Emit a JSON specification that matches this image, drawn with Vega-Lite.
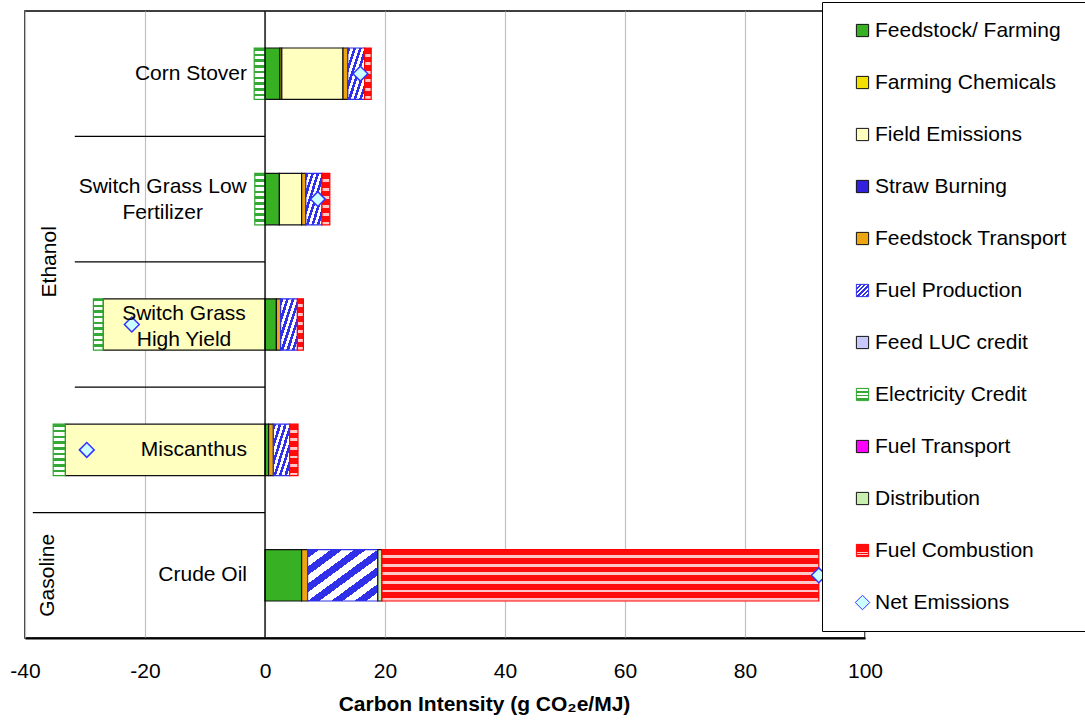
{
  "$schema": "https://vega.github.io/schema/vega-lite/v6.json",
  "width": 840,
  "height": 627,
  "autosize": {"type": "none"},
  "padding": {"left": 25, "top": 11, "right": 220, "bottom": 85},
  "background": "white",
  "config": {
    "font": "Liberation Sans",
    "view": {"stroke": "black", "strokeWidth": 1.5},
    "legend": {
      "labelFontSize": 21,
      "labelFont": "Liberation Sans",
      "labelColor": "black",
      "symbolSize": 150,
      "symbolStrokeWidth": 1,
      "rowPadding": 30,
      "padding": 18,
      "fillColor": "white",
      "strokeColor": "black",
      "symbolOffset": 12,
      "labelOffset": 2,
      "labelLimit": 400,
      "symbolType": "square"
    }
  },
  "data": {
    "values": [
      {"category": "Corn Stover", "series": "Feedstock/ Farming", "k": 1, "value": 2.5},
      {"category": "Corn Stover", "series": "Farming Chemicals", "k": 2, "value": 0.3},
      {"category": "Corn Stover", "series": "Field Emissions", "k": 3, "value": 10.2},
      {"category": "Corn Stover", "series": "Feedstock Transport", "k": 5, "value": 0.8},
      {"category": "Corn Stover", "series": "Fuel Production", "k": 6, "value": 2.8},
      {"category": "Corn Stover", "series": "Electricity Credit", "k": 8, "value": -1.8},
      {"category": "Corn Stover", "series": "Fuel Combustion", "k": 11, "value": 1.1},
      {"category": "Corn Stover", "series": "Net Emissions", "k": 12, "value": 15.9},
      {"category": "Switch Grass Low Fertilizer", "series": "Feedstock/ Farming", "k": 1, "value": 2.4},
      {"category": "Switch Grass Low Fertilizer", "series": "Field Emissions", "k": 3, "value": 3.7},
      {"category": "Switch Grass Low Fertilizer", "series": "Feedstock Transport", "k": 5, "value": 0.7},
      {"category": "Switch Grass Low Fertilizer", "series": "Fuel Production", "k": 6, "value": 2.7},
      {"category": "Switch Grass Low Fertilizer", "series": "Electricity Credit", "k": 8, "value": -1.7},
      {"category": "Switch Grass Low Fertilizer", "series": "Fuel Combustion", "k": 11, "value": 1.3},
      {"category": "Switch Grass Low Fertilizer", "series": "Net Emissions", "k": 12, "value": 8.8},
      {"category": "Switch Grass High Yield", "series": "Feedstock/ Farming", "k": 1, "value": 1.9},
      {"category": "Switch Grass High Yield", "series": "Field Emissions", "k": 3, "value": -27.0},
      {"category": "Switch Grass High Yield", "series": "Feedstock Transport", "k": 5, "value": 0.7},
      {"category": "Switch Grass High Yield", "series": "Fuel Production", "k": 6, "value": 2.8},
      {"category": "Switch Grass High Yield", "series": "Electricity Credit", "k": 8, "value": -1.6},
      {"category": "Switch Grass High Yield", "series": "Fuel Combustion", "k": 11, "value": 1.0},
      {"category": "Switch Grass High Yield", "series": "Net Emissions", "k": 12, "value": -22.2},
      {"category": "Miscanthus", "series": "Feedstock/ Farming", "k": 1, "value": 0.6},
      {"category": "Miscanthus", "series": "Field Emissions", "k": 3, "value": -33.3},
      {"category": "Miscanthus", "series": "Feedstock Transport", "k": 5, "value": 0.8},
      {"category": "Miscanthus", "series": "Fuel Production", "k": 6, "value": 2.7},
      {"category": "Miscanthus", "series": "Electricity Credit", "k": 8, "value": -2.0},
      {"category": "Miscanthus", "series": "Fuel Combustion", "k": 11, "value": 1.4},
      {"category": "Miscanthus", "series": "Net Emissions", "k": 12, "value": -29.7},
      {"category": "Crude Oil", "series": "Feedstock/ Farming", "k": 1, "value": 6.1},
      {"category": "Crude Oil", "series": "Feedstock Transport", "k": 5, "value": 1.0},
      {"category": "Crude Oil", "series": "Fuel Production", "k": 6, "value": 11.7},
      {"category": "Crude Oil", "series": "Distribution", "k": 10, "value": 0.7},
      {"category": "Crude Oil", "series": "Fuel Combustion", "k": 11, "value": 72.8},
      {"category": "Crude Oil", "series": "Net Emissions", "k": 12, "value": 92.3}
    ]
  },
  "layer": [
    {
      "transform": [{"filter": "datum.series === 'Feedstock/ Farming' && indexof(['Switch Grass Low Fertilizer','Switch Grass High Yield','Miscanthus'], datum.category) >= 0"}],
      "mark": {"type": "rule", "color": "black", "strokeWidth": 1.3},
      "encoding": {
        "y": {"field": "category", "type": "nominal", "bandPosition": 0, "axis": null,
              "scale": {"domain": ["Corn Stover", "Switch Grass Low Fertilizer", "Switch Grass High Yield", "Miscanthus", "Crude Oil"], "paddingInner": 0, "paddingOuter": 0}},
        "x": {"datum": -31.7, "type": "quantitative"},
        "x2": {"datum": 0}
      }
    },
    {
      "transform": [{"filter": "datum.series === 'Feedstock/ Farming' && datum.category === 'Crude Oil'"}],
      "mark": {"type": "rule", "color": "black", "strokeWidth": 1.3},
      "encoding": {
        "y": {"field": "category", "type": "nominal", "bandPosition": 0, "axis": null},
        "x": {"datum": -38.7, "type": "quantitative"},
        "x2": {"datum": 0}
      }
    },
    {
      "transform": [{"filter": "datum.series !== 'Net Emissions'"}],
      "mark": {"type": "bar", "height": {"band": 0.41}, "strokeWidth": 1.2},
      "encoding": {
        "y": {"field": "category", "type": "nominal", "axis": null,
              "scale": {"domain": ["Corn Stover", "Switch Grass Low Fertilizer", "Switch Grass High Yield", "Miscanthus", "Crude Oil"], "paddingInner": 0, "paddingOuter": 0}},
        "x": {
          "field": "value",
          "type": "quantitative",
          "stack": "zero",
          "scale": {"domain": [-40, 100], "nice": false},
          "axis": {
            "title": "Carbon Intensity (g CO₂e/MJ)",
            "values": [-40, -20, 0, 20, 40, 60, 80, 100],
            "labelExpr": "datum.value + ''",
            "grid": true,
            "gridColor": "#c0c0c0",
            "gridWidth": 1.2,
            "ticks": false,
            "labelFontSize": 21,
            "labelPadding": 22,
            "labelColor": "black",
            "labelFlush": false,
            "titleFontSize": 21,
            "titleFontWeight": "bold",
            "titleColor": "black",
            "titlePadding": 12,
            "titleX": 459,
            "domainColor": "black",
            "domainWidth": 2
          }
        },
        "color": {
          "field": "series",
          "type": "nominal",
          "scale": {
            "domain": ["Feedstock/ Farming", "Farming Chemicals", "Field Emissions", "Straw Burning", "Feedstock Transport", "Fuel Production", "Feed LUC credit", "Electricity Credit", "Fuel Transport", "Distribution", "Fuel Combustion", "Net Emissions"],
            "range": [
              "#38b024", "#f2e100", "#ffffc0", "#3322dd", "#eea514",
              {"expr": "{gradient: 'linear', x1: 0, y1: 0, x2: 1, y2: 1, stops: [{offset: 0, color: '#3030e8'}, {offset: 0.0833, color: '#3030e8'}, {offset: 0.0833, color: '#ffffff'}, {offset: 0.1667, color: '#ffffff'}, {offset: 0.1667, color: '#3030e8'}, {offset: 0.25, color: '#3030e8'}, {offset: 0.25, color: '#ffffff'}, {offset: 0.3333, color: '#ffffff'}, {offset: 0.3333, color: '#3030e8'}, {offset: 0.4167, color: '#3030e8'}, {offset: 0.4167, color: '#ffffff'}, {offset: 0.5, color: '#ffffff'}, {offset: 0.5, color: '#3030e8'}, {offset: 0.5833, color: '#3030e8'}, {offset: 0.5833, color: '#ffffff'}, {offset: 0.6667, color: '#ffffff'}, {offset: 0.6667, color: '#3030e8'}, {offset: 0.75, color: '#3030e8'}, {offset: 0.75, color: '#ffffff'}, {offset: 0.8333, color: '#ffffff'}, {offset: 0.8333, color: '#3030e8'}, {offset: 0.9167, color: '#3030e8'}, {offset: 0.9167, color: '#ffffff'}, {offset: 1, color: '#ffffff'}]}"},
              "#c8c8fa",
              {"expr": "{gradient: 'linear', x1: 0, y1: 0, x2: 0, y2: 1, stops: [{offset: 0, color: '#35a835'}, {offset: 0.05, color: '#35a835'}, {offset: 0.05, color: '#ffffff'}, {offset: 0.1111, color: '#ffffff'}, {offset: 0.1111, color: '#35a835'}, {offset: 0.1611, color: '#35a835'}, {offset: 0.1611, color: '#ffffff'}, {offset: 0.2222, color: '#ffffff'}, {offset: 0.2222, color: '#35a835'}, {offset: 0.2722, color: '#35a835'}, {offset: 0.2722, color: '#ffffff'}, {offset: 0.3333, color: '#ffffff'}, {offset: 0.3333, color: '#35a835'}, {offset: 0.3833, color: '#35a835'}, {offset: 0.3833, color: '#ffffff'}, {offset: 0.4444, color: '#ffffff'}, {offset: 0.4444, color: '#35a835'}, {offset: 0.4944, color: '#35a835'}, {offset: 0.4944, color: '#ffffff'}, {offset: 0.5556, color: '#ffffff'}, {offset: 0.5556, color: '#35a835'}, {offset: 0.6056, color: '#35a835'}, {offset: 0.6056, color: '#ffffff'}, {offset: 0.6667, color: '#ffffff'}, {offset: 0.6667, color: '#35a835'}, {offset: 0.7167, color: '#35a835'}, {offset: 0.7167, color: '#ffffff'}, {offset: 0.7778, color: '#ffffff'}, {offset: 0.7778, color: '#35a835'}, {offset: 0.8278, color: '#35a835'}, {offset: 0.8278, color: '#ffffff'}, {offset: 0.8889, color: '#ffffff'}, {offset: 0.8889, color: '#35a835'}, {offset: 0.9389, color: '#35a835'}, {offset: 0.9389, color: '#ffffff'}, {offset: 1, color: '#ffffff'}]}"},
              "#ff00ff", "#c8eeb0",
              {"expr": "{gradient: 'linear', x1: 0, y1: 0, x2: 0, y2: 1, stops: [{offset: 0, color: '#ff0d0d'}, {offset: 0.11, color: '#ff0d0d'}, {offset: 0.11, color: '#ffc8c8'}, {offset: 0.1667, color: '#ffc8c8'}, {offset: 0.1667, color: '#ff0d0d'}, {offset: 0.2767, color: '#ff0d0d'}, {offset: 0.2767, color: '#ffc8c8'}, {offset: 0.3333, color: '#ffc8c8'}, {offset: 0.3333, color: '#ff0d0d'}, {offset: 0.4433, color: '#ff0d0d'}, {offset: 0.4433, color: '#ffc8c8'}, {offset: 0.5, color: '#ffc8c8'}, {offset: 0.5, color: '#ff0d0d'}, {offset: 0.61, color: '#ff0d0d'}, {offset: 0.61, color: '#ffc8c8'}, {offset: 0.6667, color: '#ffc8c8'}, {offset: 0.6667, color: '#ff0d0d'}, {offset: 0.7767, color: '#ff0d0d'}, {offset: 0.7767, color: '#ffc8c8'}, {offset: 0.8333, color: '#ffc8c8'}, {offset: 0.8333, color: '#ff0d0d'}, {offset: 0.9433, color: '#ff0d0d'}, {offset: 0.9433, color: '#ffc8c8'}, {offset: 1, color: '#ffc8c8'}]}"},
              "#ccffff"
            ]
          },
          "legend": {
            "title": null,
            "orient": "none",
            "legendX": 797,
            "legendY": -9,
            "encode": {"symbols": {"update": {
              "shape": {"signal": "datum.value === 'Net Emissions' ? 'diamond' : 'square'"},
              "size": {"signal": "datum.value === 'Net Emissions' ? 210 : 150"}
            }}}
          }
        },
        "stroke": {
          "field": "series",
          "type": "nominal",
          "scale": {
            "domain": ["Feedstock/ Farming", "Farming Chemicals", "Field Emissions", "Straw Burning", "Feedstock Transport", "Fuel Production", "Feed LUC credit", "Electricity Credit", "Fuel Transport", "Distribution", "Fuel Combustion", "Net Emissions"],
            "range": ["#111111", "#111111", "#111111", "#111111", "#111111", "#3030e8", "#111111", "#2ea52e", "#111111", "#111111", "#ff0000", "#3333ff"]
          },
          "legend": {
            "title": null,
            "orient": "none",
            "legendX": 797,
            "legendY": -9,
            "encode": {"symbols": {"update": {
              "shape": {"signal": "datum.value === 'Net Emissions' ? 'diamond' : 'square'"},
              "size": {"signal": "datum.value === 'Net Emissions' ? 210 : 150"}
            }}}
          }
        },
        "order": {"field": "k", "type": "quantitative"}
      }
    },
    {
      "transform": [{"filter": "datum.series === 'Feedstock/ Farming' && datum.category === 'Corn Stover'"}],
      "mark": {"type": "rule", "color": "black", "strokeWidth": 1.3},
      "encoding": {
        "x": {"datum": 0, "type": "quantitative"}
      }
    },
    {
      "transform": [{"filter": "datum.series === 'Net Emissions'"}],
      "mark": {"type": "point", "shape": "diamond", "filled": true, "size": 220, "strokeWidth": 1.5, "opacity": 1},
      "encoding": {
        "y": {"field": "category", "type": "nominal", "axis": null},
        "x": {"field": "value", "type": "quantitative"},
        "color": {"field": "series", "type": "nominal"},
        "stroke": {"field": "series", "type": "nominal"}
      }
    },
    {
      "transform": [{"filter": "datum.series === 'Feedstock/ Farming' && indexof(['Corn Stover','Miscanthus','Crude Oil'], datum.category) >= 0"}],
      "mark": {"type": "text", "align": "right", "baseline": "middle", "fontSize": 21, "color": "black"},
      "encoding": {
        "y": {"field": "category", "type": "nominal", "axis": null},
        "x": {"datum": -3, "type": "quantitative"},
        "text": {"field": "category"}
      }
    },
    {
      "transform": [{"filter": "datum.series === 'Feedstock/ Farming' && datum.category === 'Switch Grass Low Fertilizer'"}],
      "mark": {"type": "text", "align": "center", "baseline": "middle", "fontSize": 21, "lineHeight": 26, "dy": -12, "color": "black"},
      "encoding": {
        "y": {"field": "category", "type": "nominal", "axis": null},
        "x": {"datum": -17.05, "type": "quantitative"},
        "text": {"value": ["Switch Grass Low", "Fertilizer"]}
      }
    },
    {
      "transform": [{"filter": "datum.series === 'Feedstock/ Farming' && datum.category === 'Switch Grass High Yield'"}],
      "mark": {"type": "text", "align": "center", "baseline": "middle", "fontSize": 21, "lineHeight": 26, "dy": -11, "color": "black"},
      "encoding": {
        "y": {"field": "category", "type": "nominal", "axis": null},
        "x": {"datum": -13.5, "type": "quantitative"},
        "text": {"value": ["Switch Grass", "High Yield"]}
      }
    },
    {
      "transform": [{"filter": "datum.series === 'Feedstock/ Farming' && datum.category === 'Switch Grass High Yield'"}],
      "mark": {"type": "text", "align": "center", "baseline": "middle", "fontSize": 21, "angle": 270, "color": "black"},
      "encoding": {
        "y": {"field": "category", "type": "nominal", "bandPosition": 0, "axis": null},
        "x": {"datum": -35.8, "type": "quantitative"},
        "text": {"value": "Ethanol"}
      }
    },
    {
      "transform": [{"filter": "datum.series === 'Feedstock/ Farming' && datum.category === 'Crude Oil'"}],
      "mark": {"type": "text", "align": "center", "baseline": "middle", "fontSize": 21, "angle": 270, "color": "black"},
      "encoding": {
        "y": {"field": "category", "type": "nominal", "axis": null},
        "x": {"datum": -36.1, "type": "quantitative"},
        "text": {"value": "Gasoline"}
      }
    }
  ]
}
